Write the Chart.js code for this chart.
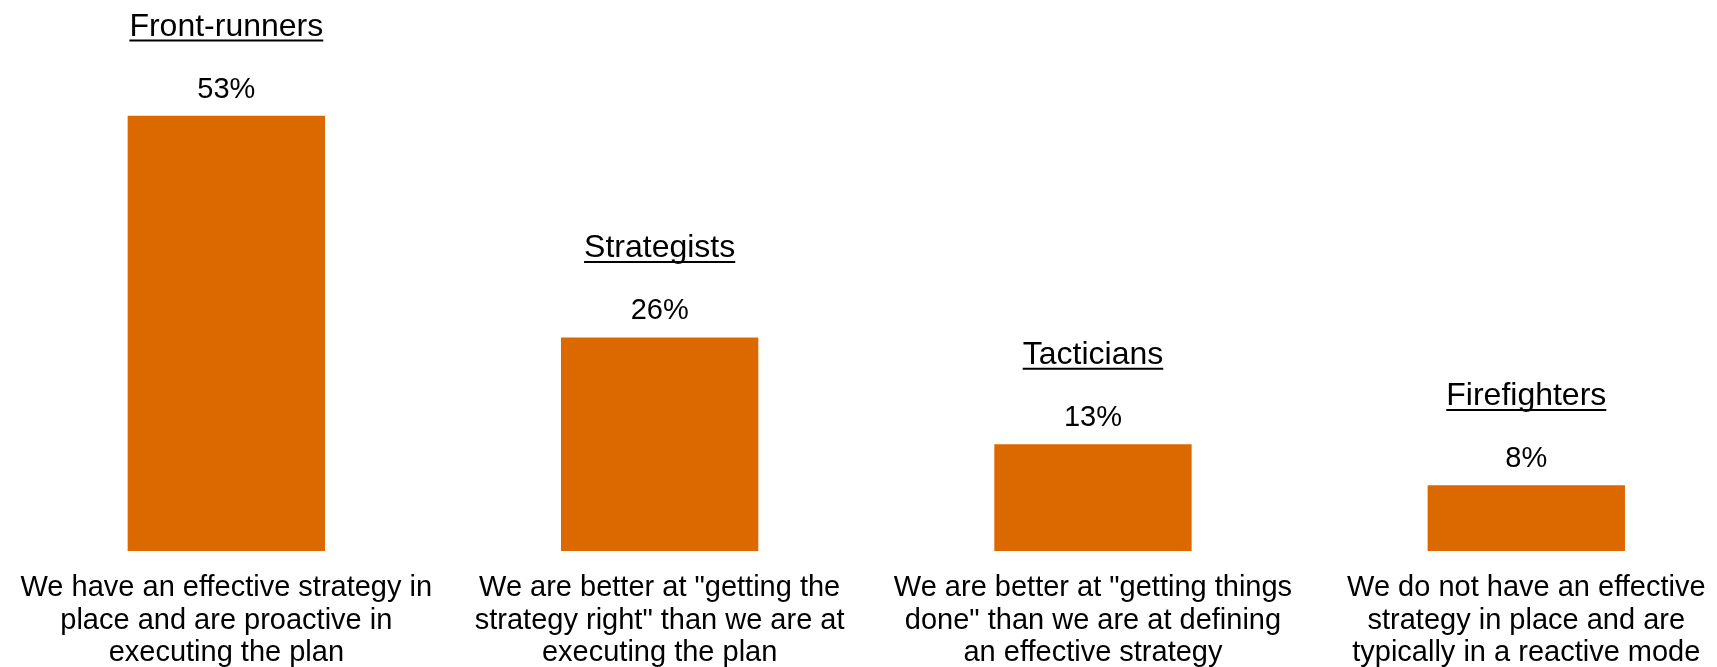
<!DOCTYPE html>
<html>
<head>
<meta charset="utf-8">
<title>Strategy and execution profiles</title>
<script src="https://cdn.jsdelivr.net/npm/chart.js@4/dist/chart.umd.min.js"></script>
<style>
  html, body { margin: 0; padding: 0; background: #ffffff; }
  #chart { display: block; }
</style>
</head>
<body>
<canvas id="chart" width="1717" height="667"></canvas>
<script>
// Segment names shown above each bar
const categories = ['Front-runners', 'Strategists', 'Tacticians', 'Firefighters'];

// Share of respondents per segment (%)
const shares = [53, 26, 13, 8];

// Descriptions shown under each bar, one entry per line
const descriptions = [
  ['We have an effective strategy in', 'place and are proactive in', 'executing the plan'],
  ['We are better at "getting the', 'strategy right" than we are at', 'executing the plan'],
  ['We are better at "getting things', 'done" than we are at defining', 'an effective strategy'],
  ['We do not have an effective', 'strategy in place and are', 'typically in a reactive mode']
];

const FONT = '"Liberation Sans", Arial, Helvetica, sans-serif';
const BAR_COLOR = '#DC6900';

// Writes the percentage and the underlined segment name above every bar
const barCaptions = {
  id: 'barCaptions',
  afterDatasetsDraw(chart) {
    const ctx = chart.ctx;
    const meta = chart.getDatasetMeta(0);
    ctx.save();
    ctx.fillStyle = '#000000';
    ctx.strokeStyle = '#000000';
    ctx.textAlign = 'center';
    ctx.textBaseline = 'alphabetic';
    meta.data.forEach((bar, i) => {
      const valueBase = bar.y - 18;
      ctx.font = '29px ' + FONT;
      ctx.fillText(shares[i] + '%', bar.x, valueBase);

      const headBase = valueBase - 62;
      ctx.font = '32px ' + FONT;
      ctx.fillText(categories[i], bar.x, headBase);
      const w = ctx.measureText(categories[i]).width;
      ctx.lineWidth = 2;
      ctx.beginPath();
      ctx.moveTo(bar.x - w / 2, headBase + 4.6);
      ctx.lineTo(bar.x + w / 2, headBase + 4.6);
      ctx.stroke();
    });
    ctx.restore();
  }
};

new Chart(document.getElementById('chart'), {
  type: 'bar',
  data: {
    datasets: [{
      data: categories.map((c, i) => ({ x: i, y: shares[i] })),
      backgroundColor: BAR_COLOR,
      borderWidth: 0,
      categoryPercentage: 1,
      barPercentage: 0.4554
    }]
  },
  options: {
    responsive: false,
    animation: false,
    layout: { padding: 0 },
    plugins: {
      legend: { display: false },
      tooltip: { enabled: false },
      title: { display: false }
    },
    scales: {
      x: {
        type: 'linear',
        offset: false,
        min: -0.5223,
        max: 3.4401,
        grid: { display: false, drawTicks: false, offset: false },
        border: { display: false },
        afterBuildTicks(scale) {
          scale.ticks = categories.map((c, i) => ({ value: i }));
        },
        afterFit(scale) {
          scale.height = 116;
          scale.paddingLeft = 0;
          scale.paddingRight = 0;
        },
        ticks: {
          autoSkip: false,
          maxRotation: 0,
          minRotation: 0,
          padding: 21,
          color: '#000000',
          font: { family: FONT, size: 29, lineHeight: 1.12 },
          callback(value, index) {
            return descriptions[index];
          }
        }
      },
      y: {
        display: false,
        min: 0,
        max: 67.1
      }
    }
  },
  plugins: [barCaptions]
});
</script>
</body>
</html>
